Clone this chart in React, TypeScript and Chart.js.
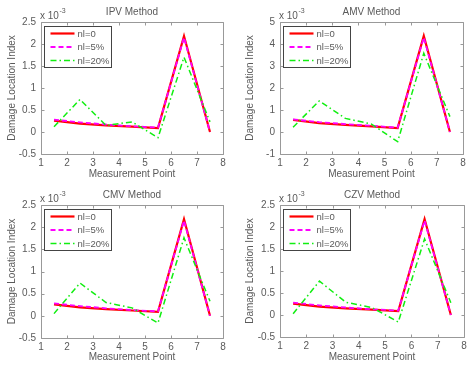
import React, { useEffect, useRef } from "react";
import { Chart, registerables } from "chart.js";

Chart.register(...registerables);

// ---------- data ----------
const measurementPoints = [1.5, 2.5, 3.5, 4.5, 5.5, 6.5, 7.5];
const seriesLabels = ["nl=0", "nl=5%", "nl=20%"];

const ipvNl0 = [0.26, 0.19, 0.15, 0.12, 0.09, 2.18, 0.0];
const ipvNl5 = [0.28, 0.22, 0.17, 0.13, 0.1, 2.15, 0.0];
const ipvNl20 = [0.12, 0.74, 0.15, 0.23, -0.13, 1.7, 0.23];

const amvNl0 = [0.55, 0.4, 0.32, 0.26, 0.18, 4.37, 0.0];
const amvNl5 = [0.57, 0.45, 0.36, 0.28, 0.2, 4.3, 0.0];
const amvNl20 = [0.22, 1.41, 0.62, 0.36, -0.44, 3.58, 0.7];

const cmvNl0 = [0.26, 0.19, 0.15, 0.12, 0.09, 2.18, 0.0];
const cmvNl5 = [0.28, 0.22, 0.17, 0.13, 0.1, 2.15, 0.0];
const cmvNl20 = [0.05, 0.74, 0.3, 0.18, -0.16, 1.76, 0.33];

const czvNl0 = [0.26, 0.19, 0.15, 0.12, 0.09, 2.18, 0.0];
const czvNl5 = [0.28, 0.22, 0.17, 0.13, 0.1, 2.15, 0.0];
const czvNl20 = [0.03, 0.77, 0.29, 0.17, -0.16, 1.73, 0.28];

const xTickRange = [1, 8, 1]; // min, max, step
const yTickRangeSmall = [-0.5, 2.5, 0.5];
const yTickRangeLarge = [-1, 5, 1];

// ---------- styles ----------
const FONT = '"Liberation Sans", Arial, sans-serif';
const TEXT = "#5a5a5a";
const AXIS = "#999999";
const seriesColors = ["#ff0000", "#ff00ff", "#11ee11"];
const seriesWidths = [2.2, 1.8, 1.5];
const seriesDashes: number[][] = [[], [5, 3], [6, 3, 1.5, 3]];

type Panel = {
  title: string;
  series: number[][];
  yRange: number[];
  box: { x: number; y: number; w: number; h: number };
  area: { l: number; r: number; t: number; b: number };
  yTitlePad: number;
  xTitlePad: number;
};

const panels: Panel[] = [
  {
    title: "IPV Method",
    series: [ipvNl0, ipvNl5, ipvNl20],
    yRange: yTickRangeSmall,
    box: { x: 0, y: 0, w: 237, h: 183 },
    area: { l: 41, r: 223, t: 22, b: 154 },
    yTitlePad: 6,
    xTitlePad: 3,
  },
  {
    title: "AMV Method",
    series: [amvNl0, amvNl5, amvNl20],
    yRange: yTickRangeLarge,
    box: { x: 237, y: 0, w: 238, h: 183 },
    area: { l: 280, r: 463, t: 22, b: 154 },
    yTitlePad: 7,
    xTitlePad: 3,
  },
  {
    title: "CMV Method",
    series: [cmvNl0, cmvNl5, cmvNl20],
    yRange: yTickRangeSmall,
    box: { x: 0, y: 183, w: 237, h: 184 },
    area: { l: 41, r: 223, t: 205, b: 338 },
    yTitlePad: 6,
    xTitlePad: 4,
  },
  {
    title: "CZV Method",
    series: [czvNl0, czvNl5, czvNl20],
    yRange: yTickRangeSmall,
    box: { x: 237, y: 183, w: 238, h: 184 },
    area: { l: 280, r: 464, t: 205, b: 337 },
    yTitlePad: 7,
    xTitlePad: 4,
  },
];

const matlabAxesPlugin = {
  id: "matlabAxes",
  afterDraw(chart: any) {
    const { ctx, chartArea } = chart;
    const { left, right, top, bottom } = chartArea;
    const xs = chart.scales.x;
    const ys = chart.scales.y;
    ctx.save();
    ctx.strokeStyle = AXIS;
    ctx.lineWidth = 1;
    ctx.setLineDash([]);
    const L = Math.round(left) + 0.5;
    const R = Math.round(right) + 0.5;
    const T = Math.round(top) + 0.5;
    const B = Math.round(bottom) + 0.5;
    ctx.beginPath();
    ctx.moveTo(L, T);
    ctx.lineTo(R, T);
    ctx.lineTo(R, B);
    ctx.lineTo(L, B);
    ctx.closePath();
    const TL = 3;
    xs.ticks.forEach((t: any) => {
      const px = Math.round(xs.getPixelForValue(t.value)) + 0.5;
      ctx.moveTo(px, B);
      ctx.lineTo(px, B - TL);
      ctx.moveTo(px, T);
      ctx.lineTo(px, T + TL);
    });
    ys.ticks.forEach((t: any) => {
      const py = Math.round(ys.getPixelForValue(t.value)) + 0.5;
      ctx.moveTo(L, py);
      ctx.lineTo(L + TL, py);
      ctx.moveTo(R, py);
      ctx.lineTo(R - TL, py);
    });
    ctx.stroke();

    // exponent label
    ctx.fillStyle = TEXT;
    ctx.textBaseline = "alphabetic";
    ctx.textAlign = "left";
    ctx.font = `10px ${FONT}`;
    const base = "x 10";
    ctx.fillText(base, left - 1, top - 3.5);
    const w = ctx.measureText(base).width;
    ctx.font = `7px ${FONT}`;
    ctx.fillText("-3", left - 1 + w + 0.5, top - 9.5);

    // legend
    const lx = Math.round(left) + 3.5;
    const ly = Math.round(top) + 4.5;
    const lw = 67;
    const lh = 41;
    ctx.fillStyle = "#ffffff";
    ctx.fillRect(lx, ly, lw, lh);
    ctx.strokeStyle = "#444444";
    ctx.lineWidth = 1;
    ctx.strokeRect(lx, ly, lw, lh);
    ctx.font = `9.5px ${FONT}`;
    ctx.textBaseline = "middle";
    chart.data.datasets.forEach((ds: any, i: number) => {
      const cy = ly + 7 + i * 13.5;
      ctx.strokeStyle = ds.borderColor;
      ctx.lineWidth = ds.borderWidth;
      ctx.setLineDash(ds.borderDash || []);
      ctx.beginPath();
      ctx.moveTo(lx + 6, cy);
      ctx.lineTo(lx + 30, cy);
      ctx.stroke();
      ctx.setLineDash([]);
      ctx.fillStyle = TEXT;
      ctx.fillText(ds.label, lx + 33, cy + 0.5);
    });
    ctx.restore();
  },
};

function ChartPanel({ panel }: { panel: Panel }) {
  const ref = useRef<HTMLCanvasElement | null>(null);
  useEffect(() => {
    if (!ref.current) return;
    const { box, area } = panel;
    const [xMin, xMax, xStep] = xTickRange;
    const [yMin, yMax, yStep] = panel.yRange;
    const chart = new Chart(ref.current, {
      type: "line",
      data: {
        datasets: panel.series.map((vals, i) => ({
          label: seriesLabels[i],
          data: measurementPoints.map((x, j) => ({ x, y: vals[j] })),
          borderColor: seriesColors[i],
          borderWidth: seriesWidths[i],
          borderDash: seriesDashes[i],
          pointRadius: 0,
          fill: false,
          tension: 0,
          order: 3 - i,
        })),
      },
      options: {
        animation: false,
        responsive: false,
        maintainAspectRatio: false,
        devicePixelRatio: 1,
        layout: {
          padding: { left: 0, top: 0, right: box.x + box.w - area.r, bottom: 0 },
        },
        plugins: {
          legend: { display: false },
          tooltip: { enabled: false },
          title: {
            display: true,
            fullSize: false,
            text: panel.title,
            color: TEXT,
            font: { family: FONT, size: 10, weight: "normal" },
            padding: { top: 6, bottom: area.t - box.y - 18 },
          },
        },
        scales: {
          x: {
            type: "linear",
            min: xMin,
            max: xMax,
            ticks: {
              stepSize: xStep,
              color: TEXT,
              font: { family: FONT, size: 10 },
              padding: 3,
              maxRotation: 0,
              autoSkip: false,
            },
            grid: { display: false, drawTicks: false },
            border: { display: false },
            title: {
              display: true,
              text: "Measurement Point",
              color: TEXT,
              font: { family: FONT, size: 10 },
              padding: { top: 0, bottom: panel.xTitlePad },
            },
            afterFit: (s: any) => {
              s.height = box.y + box.h - area.b;
            },
          },
          y: {
            type: "linear",
            min: yMin,
            max: yMax,
            ticks: {
              stepSize: yStep,
              color: TEXT,
              font: { family: FONT, size: 10 },
              padding: 5,
              autoSkip: false,
              callback: (v: any) => String(Math.round(Number(v) * 10) / 10),
            },
            grid: { display: false, drawTicks: false },
            border: { display: false },
            title: {
              display: true,
              text: "Damage Location Index",
              color: TEXT,
              font: { family: FONT, size: 10 },
              padding: { top: panel.yTitlePad, bottom: 0 },
            },
            afterFit: (s: any) => {
              s.width = area.l - box.x;
            },
          },
        },
      } as any,
      plugins: [matlabAxesPlugin],
    });
    return () => chart.destroy();
  }, [panel]);
  const { box } = panel;
  return (
    <div style={{ position: "absolute", left: box.x, top: box.y, width: box.w, height: box.h }}>
      <canvas ref={ref} width={box.w} height={box.h} style={{ display: "block" }} />
    </div>
  );
}

export default function App() {
  return (
    <div
      style={{
        position: "absolute",
        left: 0,
        top: 0,
        width: 475,
        height: 367,
        background: "#ffffff",
        overflow: "hidden",
      }}
    >
      {panels.map((p) => (
        <ChartPanel key={p.title} panel={p} />
      ))}
    </div>
  );
}
